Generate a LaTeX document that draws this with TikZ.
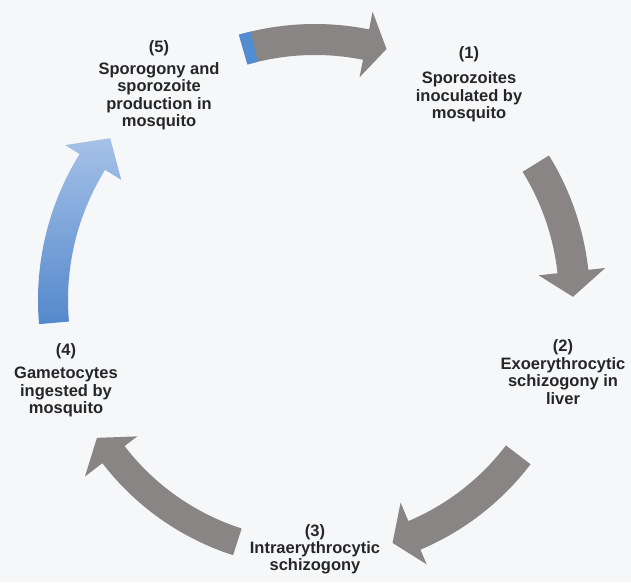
\documentclass[tikz,border=0pt]{standalone}
\usepackage{fontspec}
\setmainfont{Liberation Sans}
\definecolor{arrgray}{RGB}{138,133,133}
\definecolor{blueA}{RGB}{84,136,204}
\definecolor{blueB}{RGB}{165,193,232}
\definecolor{bluepatch}{RGB}{82,140,210}
\definecolor{txt}{RGB}{38,38,38}
\definecolor{bg}{RGB}{246,247,249}
\begin{document}
\begin{tikzpicture}[x=1pt,y=1pt,
  lbl/.style={font=\bfseries\fontsize{16.5}{17.5}\selectfont, align=center, text=txt, inner sep=0pt}]
\useasboundingbox (0,0) rectangle (631,582);
\fill[bg] (0,0) rectangle (631,582);
\begin{scope}[shift={(315,282)}]
  % (5) -> (1)
  \fill[arrgray] (106:276) arc[start angle=106, end angle=78.7, radius=276]
    -- (78.7:294) -- (74.1:261) -- (78.7:227) -- (78.7:245)
    arc[start angle=78.7, end angle=106, radius=245] -- cycle;
  \fill[bluepatch] (106:276) arc[start angle=106, end angle=103.5, radius=276]
    -- (103.5:245) arc[start angle=103.5, end angle=106, radius=245] -- cycle;
  % (1) -> (2)
  \fill[arrgray] (31.7:275) arc[start angle=31.7, end angle=6.3, radius=275]
    -- (6.3:292) -- (0.7:258) -- (6.3:225) -- (6.3:244)
    arc[start angle=6.3, end angle=31.7, radius=244] -- cycle;
  % (2) -> (3)
  \fill[arrgray] (-37.3:271) arc[start angle=-37.3, end angle=-67.1, radius=271]
    -- (-67.1:287) -- (-72.3:255) -- (-67.1:220) -- (-67.1:240)
    arc[start angle=-67.1, end angle=-37.3, radius=240] -- cycle;
  % (3) -> (4)
  \fill[arrgray] (-107.8:268) arc[start angle=-107.8, end angle=-142.5, radius=268]
    -- (-142.5:290) -- (-147.7:258) -- (-142.5:224) -- (-142.5:240)
    arc[start angle=-142.5, end angle=-107.8, radius=240] -- cycle;
  % (4) -> (5)
  \shade[top color=blueB, bottom color=blueA] (185:277) arc[start angle=185, end angle=148.2, radius=277]
    -- (148.2:294) -- (141.7:261) -- (148.2:228) -- (148.2:247)
    arc[start angle=148.2, end angle=185, radius=247] -- cycle;
\end{scope}
\node[lbl] (n5) at (159,497) {(5)\\[4.5pt]Sporogony and\\sporozoite\\production in\\mosquito};
\node[lbl] (n1) at (469,498) {(1)\\[8pt]Sporozoites\\inoculated by\\mosquito};
\node[lbl] (n2) at (563,210) {(2)\\Exoerythrocytic\\schizogony in\\liver};
\node[lbl, font=\bfseries\fontsize{16.5}{17}\selectfont] (n3) at (315,33) {(3)\\Intraerythrocytic\\schizogony};
\node[lbl] (n4) at (66,202) {(4)\\[6pt]Gametocytes\\ingested by\\mosquito};
\end{tikzpicture}
\end{document}
